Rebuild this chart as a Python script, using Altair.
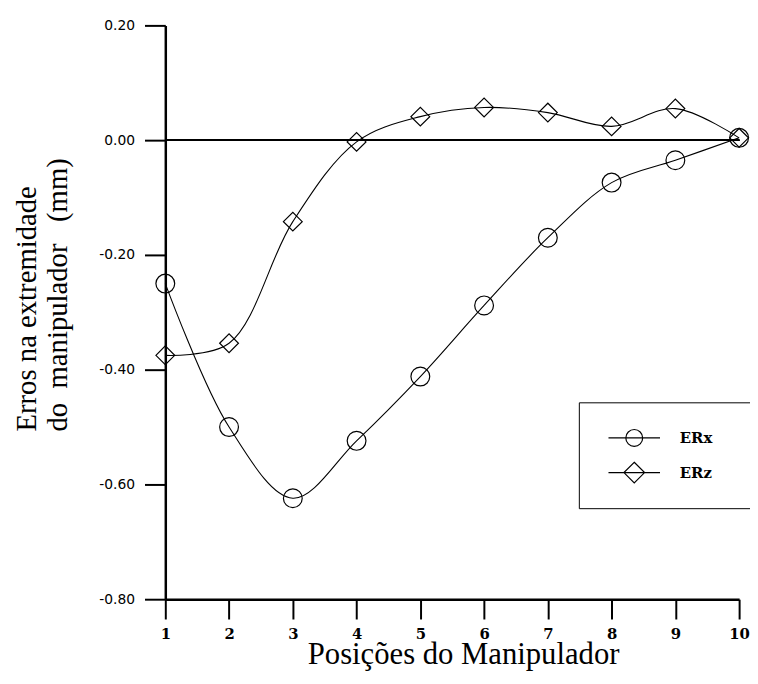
import altair as alt
import pandas as pd

positions = [1, 2, 3, 4, 5, 6, 7, 8, 9, 10]
erx = [-0.250, -0.500, -0.624, -0.524, -0.412, -0.288, -0.170, -0.074, -0.035, 0.004]
erz = [-0.375, -0.354, -0.142, -0.003, 0.041, 0.057, 0.048, 0.024, 0.055, 0.004]
series_names = ["ERx", "ERz"]
y_ticks = [-0.8, -0.6, -0.4, -0.2, 0.0, 0.2]

rows = []
for p, a, b in zip(positions, erx, erz):
    rows.append({"pos": p, "serie": "ERx", "erro": a})
    rows.append({"pos": p, "serie": "ERz", "erro": b})
df = pd.DataFrame(rows)

NB = "\u00a0"
ZW = "\u200b"

x_enc = alt.X(
    "pos:Q",
    scale=alt.Scale(domain=[1, 10], nice=False, zero=False),
    axis=alt.Axis(
        values=positions, format="d", grid=False, labelFlush=False,
        title="Posições do Manipulador",
        titleFont="Liberation Serif", titleFontSize=31, titleFontWeight="normal",
        titleColor="black", titleX=301, titleY=65, titleAlign="center",
        titleBaseline="alphabetic",
        labelFont="DejaVu Serif", labelFontWeight="bold", labelFontSize=15,
        labelColor="black", labelPadding=8,
        tickSize=20, tickWidth=2, tickColor="black",
        domainColor="black", domainWidth=2.5,
    ),
)
y_enc = alt.Y(
    "erro:Q",
    scale=alt.Scale(domain=[-0.8, 0.2], nice=False, zero=False),
    axis=alt.Axis(
        values=y_ticks, grid=False,
        labelExpr="(datum.value < 0 ? '-' : '') + format(abs(datum.value), '.2f')",
        title=["Erros na extremidade", "do" + NB * 2 + "manipulador" + NB * 3 + "(mm)"],
        titleFont="Liberation Serif", titleFontSize=29, titleFontWeight="normal",
        titleColor="black", titleAngle=270, titleAlign="left",
        titleBaseline="alphabetic", titleX=-131, titleY=410, titleLineHeight=31,
        labelFont="DejaVu Sans", labelFontSize=14, labelColor="black",
        labelPadding=10,
        tickSize=21, tickWidth=2, tickColor="black",
        domainColor="black", domainWidth=2.5,
    ),
)

base = alt.Chart(df)

zero_rule = base.mark_rule(color="black", strokeWidth=1.5).encode(y=alt.datum(0))

lines = base.mark_line(interpolate="catmull-rom", color="black", strokeWidth=1.1).encode(
    x=x_enc, y=y_enc, detail="serie:N"
)

points = base.mark_point(filled=False, color="black", strokeWidth=1.2, size=361, opacity=1).encode(
    x=x_enc, y=y_enc,
    shape=alt.Shape("serie:N", scale=alt.Scale(domain=series_names, range=["circle", "diamond"]), legend=None),
)

# legend symbols: a line through the marker (unit box scaled by 12 px)
circ_path = "M-2.17,0H2.17M-0.71,0A0.71,0.71 0 1 1 0.71,0A0.71,0.71 0 1 1 -0.71,0Z"
diam_path = "M-2.17,0H2.17M0,-0.87L0.87,0L0,0.87L-0.87,0Z"

legend_pts = base.mark_point(filled=False, color="black", opacity=0, size=576).encode(
    x=x_enc, y=y_enc,
    shape=alt.Shape(
        "serie:N",
        scale=alt.Scale(domain=series_names, range=[circ_path, diam_path]),
        legend=alt.Legend(
            title=None, orient="none", legendX=418, legendY=381,
            padding=23, strokeColor="black", fillColor="white",
            symbolSize=576, symbolOffset=20, labelOffset=33, rowPadding=11,
            symbolFillColor="transparent", symbolStrokeColor="black",
            symbolStrokeWidth=1.2, symbolOpacity=1,
            labelFont="DejaVu Serif", labelFontWeight="bold", labelFontSize=15,
            labelColor="black",
            labelExpr="datum.label + '" + NB * 5 + ZW + "'",
        ),
    ),
)

chart = (
    alt.layer(zero_rule, lines, points, legend_pts)
    .resolve_scale(shape="independent")
    .properties(
        width=580, height=580,
        autosize=alt.AutoSizeParams(type="none"),
        padding={"left": 159, "top": 14, "right": 11, "bottom": 70},
        background="white",
    )
    .configure_view(stroke=None)
)

chart.save("out.html", embed_options={"renderer": "svg", "actions": False})
